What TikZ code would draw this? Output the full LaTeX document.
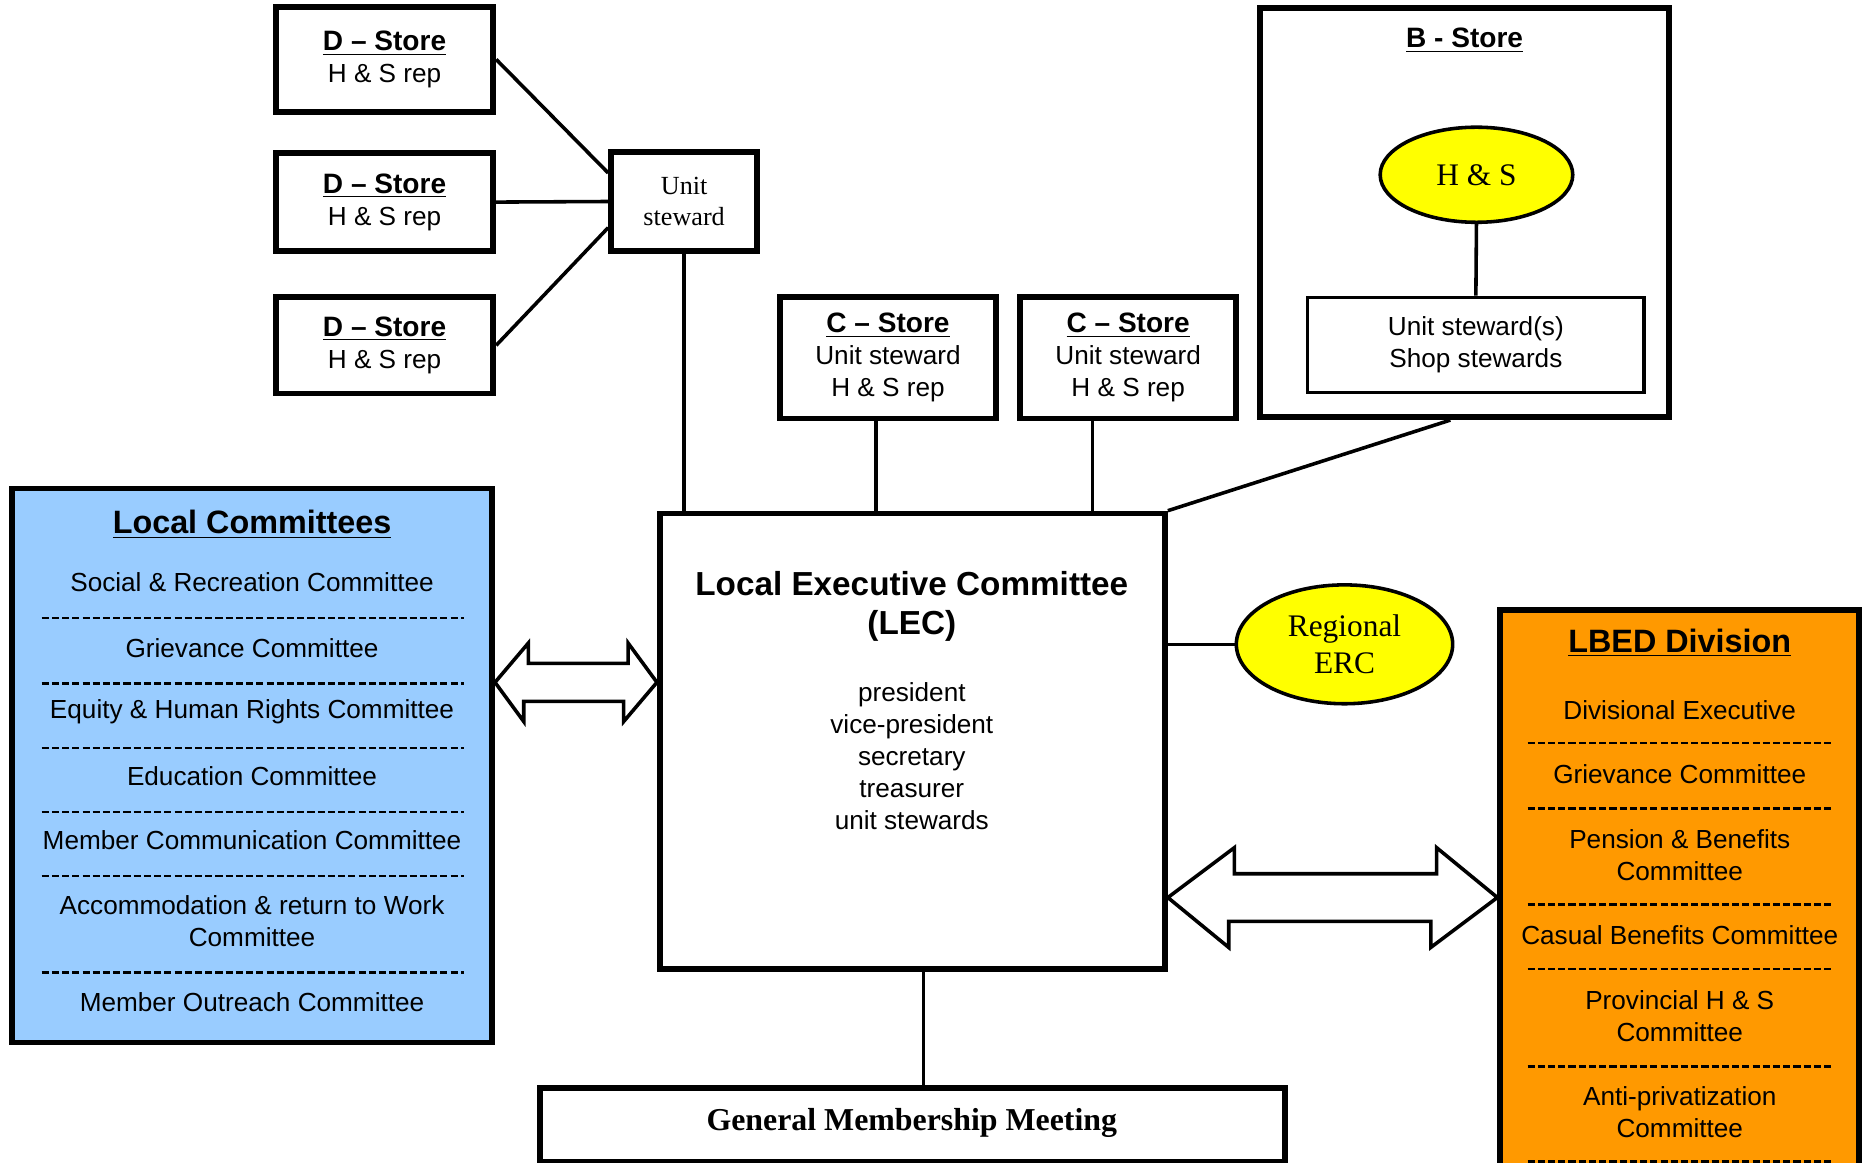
\documentclass[tikz,border=0pt]{standalone}
\usepackage{fontspec}
\setmainfont{Liberation Sans}
\newfontfamily\timesfont{Liberation Serif}
\usetikzlibrary{shapes.geometric}
\definecolor{lcblue}{HTML}{99CCFF}
\definecolor{lbedorange}{HTML}{FF9900}
\definecolor{hsyellow}{HTML}{FFFF00}
\newcommand{\storehead}[1]{\underline{\textbf{\fontsize{11.8}{13.5}\selectfont #1}}}
\tikzset{
  storebox/.style={draw, line width=2.4pt, align=center, inner sep=0pt, font=\fontsize{11}{13.5}\selectfont},
  innerbox/.style={draw, line width=1.4pt, align=center, inner sep=0pt, font=\fontsize{11}{13.5}\selectfont},
  oval/.style={ellipse, draw, line width=1.5pt, fill=hsyellow, inner sep=0pt, align=center, font=\timesfont\fontsize{13.2}{15.5}\selectfont},
  link/.style={line width=1.5pt},
  listtext/.style={align=center, inner sep=0pt, font=\fontsize{11}{13.5}\selectfont},
  bigtitle/.style={inner sep=0pt, font=\bfseries\fontsize{13.6}{16}\selectfont},
  sepline/.style={line width=1pt, dash pattern=on 3pt off 1.3pt},
  hollow/.style={draw, line width=1.5pt, fill=white, line join=miter},
}
\begin{document}
\begin{tikzpicture}[x=0.5pt, y=-0.5pt]
  \useasboundingbox (0,0) rectangle (1568,978);
  \clip (0,0) rectangle (1568,978);

  % D stores and their unit steward
  \node[storebox, minimum width=91.5pt, minimum height=44pt] (d1) at (323.5,50) {\storehead{D -- Store}\\H \& S rep};
  \node[storebox, minimum width=91.5pt, minimum height=41pt] (d2) at (323.5,170) {\storehead{D -- Store}\\H \& S rep};
  \node[storebox, minimum width=91.5pt, minimum height=40.5pt] (d3) at (323.5,290.5) {\storehead{D -- Store}\\H \& S rep};
  \node[storebox, font=\timesfont\fontsize{11}{13}\selectfont, minimum width=61.5pt, minimum height=41.5pt] (us) at (575.5,169.5) {Unit\\steward};
  \draw[link] (d1.east) -- ([yshift=12pt]us.west);
  \draw[link] (d2.east) -- (us.west);
  \draw[link] (d3.east) -- ([yshift=-11pt]us.west);

  % C stores
  \node[storebox, minimum width=91pt, minimum height=51pt] (c1) at (747,301) {\storehead{C -- Store}\\Unit steward\\H \& S rep};
  \node[storebox, minimum width=91pt, minimum height=51pt] (c2) at (949,301) {\storehead{C -- Store}\\Unit steward\\H \& S rep};

  % B store
  \node[storebox, minimum width=172pt, minimum height=172pt] (bstore) at (1232,179) {};
  \node[listtext] (btitle) at (1232,34) {\storehead{B - Store}};
  \node[oval, minimum width=81pt, minimum height=40pt] (hs) at (1242,147) {H \& S};
  \node[innerbox, minimum width=141.5pt, minimum height=40pt] (shop) at (1241.5,290) {Unit steward(s)\\Shop stewards};
  \draw[link] (hs.south) -- (shop.north);

  % executive
  \node[storebox, minimum width=212.5pt, minimum height=191.5pt] (lec) at (767.5,623.5) {};
  \node[align=center, inner sep=0pt, font=\bfseries\fontsize{14}{16.5}\selectfont] (lectitle) at (767,510) {Local Executive Committee\\(LEC)};
  \node[listtext] (officers) at (767,636) {president\\vice-president\\secretary\\treasurer\\unit stewards};
  \draw[link] (us.south) -- (us.south |- lec.north);
  \draw[link] ([xshift=-5pt]c1.south) -- ([xshift=-5pt]c1.south |- lec.north);
  \draw[link] ([xshift=-15pt]c2.south) -- ([xshift=-15pt]c2.south |- lec.north);
  \draw[link] ([xshift=-6pt]bstore.south) -- (lec.north east);

  \node[oval, minimum width=91pt, minimum height=50pt] (erc) at (1131,542) {Regional\\ERC};
  \draw[link] (lec.east |- erc.west) -- (erc.west);

  \node[storebox, minimum width=313.5pt, minimum height=31pt] (gmm) at (767.5,946) {};
  \node[inner sep=0pt, font=\timesfont\bfseries\fontsize{13.4}{16}\selectfont] (gmmtext) at (767,945) {General Membership Meeting};
  \draw[link] ([xshift=4.75pt]lec.south) -- ([xshift=4.75pt]lec.south |- gmm.north);

  % local committees
  \node[storebox, fill=lcblue, minimum width=202pt, minimum height=233pt] (lc) at (212,644) {};
  \node[bigtitle] (lctitle) at (212,441) {\underline{Local Committees}};
  \node[listtext] (lc1) at (212,490) {Social \& Recreation Committee};
  \draw[sepline] (35,520) -- (390,520);
  \node[listtext] (lc2) at (212,545) {Grievance Committee};
  \draw[sepline] (35,575) -- (390,575);
  \node[listtext] (lc3) at (212,599) {Equity \& Human Rights Committee};
  \draw[sepline] (35,629) -- (390,629);
  \node[listtext] (lc4) at (212,653) {Education Committee};
  \draw[sepline] (35,683) -- (390,683);
  \node[listtext] (lc5) at (212,707) {Member Communication Committee};
  \draw[sepline] (35,737) -- (390,737);
  \node[listtext] (lc6) at (212,774.5) {Accommodation \& return to Work\\Committee};
  \draw[sepline] (35,818) -- (390,818);
  \node[listtext] (lc7) at (212,843) {Member Outreach Committee};

  % LBED division
  \node[storebox, fill=lbedorange, minimum width=151pt, minimum height=243.5pt] (lbed) at (1413,756.5) {};
  \node[bigtitle] (lbedtitle) at (1413,541) {\underline{LBED Division}};
  \node[listtext] (lb1) at (1413,597) {Divisional Executive};
  \draw[sepline] (1285,625) -- (1542,625);
  \node[listtext] (lb2) at (1413,651) {Grievance Committee};
  \draw[sepline] (1285,680) -- (1542,680);
  \node[listtext] (lb3) at (1413,719.5) {Pension \& Benefits\\Committee};
  \draw[sepline] (1285,761) -- (1542,761);
  \node[listtext] (lb4) at (1413,787) {Casual Benefits Committee};
  \draw[sepline] (1285,815) -- (1542,815);
  \node[listtext] (lb5) at (1413,854.5) {Provincial H \& S\\Committee};
  \draw[sepline] (1285,897) -- (1542,897);
  \node[listtext] (lb6) at (1413,935.5) {Anti-privatization\\Committee};
  \draw[sepline] (1285,977) -- (1542,977);

  % two-way arrows
  \draw[hollow] (lc.east |- 0,574) -- ++(28,-33) -- ++(0,17) -- ++(84,0) -- ++(0,-17)
    -- (lec.west |- 0,574) -- ++(-28,33) -- ++(0,-17) -- ++(-84,0) -- ++(0,17) -- cycle;
  \draw[hollow] (lec.east |- 0,755) -- ++(56,-42) -- ++(0,22) -- ++(170,0) -- ++(0,-22)
    -- (lbed.west |- 0,755) -- ++(-56,42) -- ++(0,-22) -- ++(-170,0) -- ++(0,22) -- cycle;
\end{tikzpicture}
\end{document}
